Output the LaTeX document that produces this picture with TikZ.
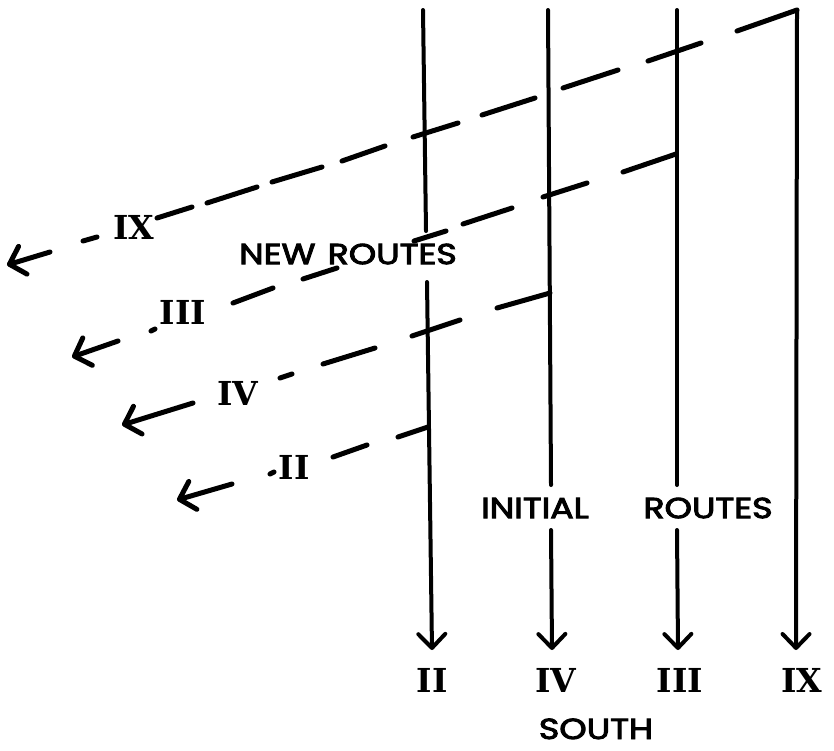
\documentclass[tikz,border=0pt]{standalone}
\usepackage{fontspec}
\usetikzlibrary{arrows.meta}
\newfontfamily\labfont{Poppins}[FakeBold=3]
\newfontfamily\romfont{DejaVu Serif}
\begin{document}
\begin{tikzpicture}[x=1pt,y=-1pt,
  vline/.style={line width=4pt, line cap=round},
  dsh/.style={line width=5pt, line cap=round},
  downarr/.style={vline,-{Straight Barb[length=14pt,width=27pt,round]}},
  leftarr/.style={dsh,-{Straight Barb[length=14pt,width=29pt,round]}},
  rom/.style={font=\romfont\bfseries\fontsize{33}{33}\selectfont, inner sep=0pt},
  lab/.style={font=\labfont\fontsize{29}{29}\selectfont, inner sep=0pt, xscale=1.2}]
\useasboundingbox (0,0) rectangle (834,750);
% text labels
\node[lab] (newr) at (348,254) {NEW\hspace{0.35em}ROUTES};
\node[lab] (init) at (535,508) {INITIAL};
\node[lab] (rout) at (708,508) {ROUTES};
\node[lab, anchor=base] (south) at (596,739) {SOUTH};
% bottom numerals
\node[rom] (bII)  at (432,680) {II};
\node[rom] (bIV)  at (556,680) {IV};
\node[rom] (bIII) at (680,680) {III};
\node[rom] (bIX)  at (802,680) {IX};
% route numerals
\node[rom] (lIX)  at (134,227) {IX};
\node[rom] (lIII) at (183,312) {III};
\node[rom] (lIV)  at (238,393) {IV};
\node[rom] (lII)  at (294,467) {II};
% vertical coordinates
\coordinate (tII) at (423,10);  \coordinate (gIIa) at (426,231); \coordinate (gIIb) at (427,282); \coordinate (eII) at (432,650);
\coordinate (tIV) at (548,10);  \coordinate (gIVa) at (551,485); \coordinate (gIVb) at (551,530); \coordinate (eIV) at (552,650);
\coordinate (tIII) at (677,10); \coordinate (gIIIa) at (677,485); \coordinate (gIIIb) at (677,530); \coordinate (eIII) at (678,650);
\coordinate (tIX) at (797,10);  \coordinate (eIX) at (796,650);
% initial routes
\draw[vline] (tII) -- (gIIa);
\draw[downarr] (gIIb) -- (eII);
\draw[vline] (tIV) -- (gIVa);
\draw[downarr] (gIVb) -- (eIV);
\draw[vline] (tIII) -- (gIIIa);
\draw[downarr] (gIIIb) -- (eIII);
\draw[downarr] (tIX) -- (eIX);
% new route IX
\draw[dsh] (tIX) -- (737,31);
\draw[dsh] (701,43) -- (648,61);
\draw[dsh] (618,70) -- (563,88);
\draw[dsh] (535,98) -- (482,115);
\draw[dsh] (458,123) -- (413,137);
\draw[dsh] (385,146) -- (342,161);
\draw[dsh] (322,167) -- (272,182);
\draw[dsh] (257,187) -- (207,203);
\draw[dsh] (192,207) -- (157,218);
\draw[dsh] (97,237) -- (83,241);
\coordinate (aIX) at (7,265);
\draw[leftarr] (50,252) -- (aIX);
% new route III
\draw[dsh] (676,154) -- (623,172);
\draw[dsh] (587,183) -- (543,197);
\draw[dsh] (512,208) -- (463,224);
\draw[dsh] (446,231) -- (414,241);
\draw[dsh] (337,268) -- (303,279);
\draw[dsh] (273,288) -- (233,303);
\draw[dsh] (155,329) -- (151,331);
\coordinate (aIII) at (72,357);
\draw[leftarr] (118,341) -- (aIII);
% new route IV
\draw[dsh] (550,293) -- (497,308);
\draw[dsh] (460,320) -- (412,336);
\draw[dsh] (375,348) -- (323,364);
\draw[dsh] (292,374) -- (280,378);
\coordinate (aIV) at (122,425);
\draw[leftarr] (193,403) -- (aIV);
% new route II
\draw[dsh] (428,427) -- (398,437);
\draw[dsh] (367,445) -- (333,457);
\draw[dsh] (274,472) -- (270,474);
\coordinate (aII) at (177,500);
\draw[leftarr] (232,484) -- (aII);
\end{tikzpicture}
\end{document}
